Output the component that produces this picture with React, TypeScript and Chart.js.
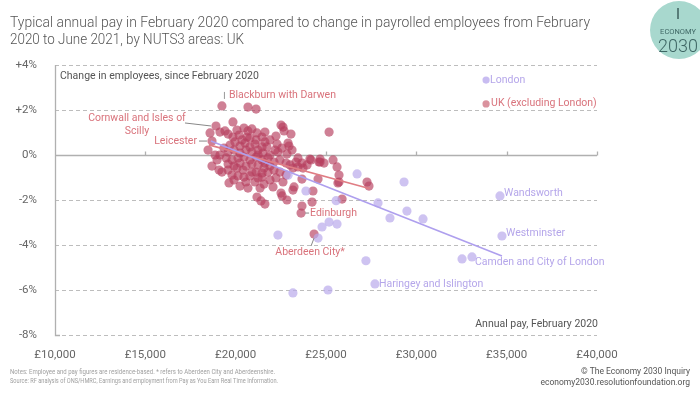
import React, { useEffect, useRef } from "react";
import { Chart, registerables } from "chart.js";

Chart.register(...registerables);

// ---- Data ----
// Labelled red (UK excl. London) areas first: Blackburn, Cornwall, Leicester, Edinburgh, Aberdeen
const redPay = [
  19240, 18910, 18690, 23620, 24340,
  20680, 21130, 18580, 19850, 19130, 19410, 19580, 20070, 20460, 20680, 20900, 20190, 19850, 20630,
  21180, 21460, 21620, 22510, 22620, 22680, 23060, 25170, 21620, 22290, 22900, 22950, 21730, 21460,
  22340, 22840, 23450, 24110, 24670, 21510, 21900, 24170, 24890, 24610, 25390, 25610, 25720, 25720,
  24560, 23730, 23450, 23170, 23010, 22620, 22070, 22510, 23170, 22570, 22840, 23670, 19630, 20570,
  21180, 21400, 21620, 21350, 23230, 24280, 24230, 25890, 27270, 27380, 25660, 23670, 18690, 18970,
  19580, 21070, 21240, 21460, 20900, 20410, 20070, 24670,
  19690, 19960, 20240, 20520, 20790, 21070, 21240, 20900, 20570, 20240, 19910, 19580, 19350, 19130,
  19470, 19800, 20130, 20460, 20790, 21130, 21460, 21790, 22120, 22450, 22790, 21900, 21570, 21240,
  20900, 20570, 20240, 19910, 19580, 19240, 19800, 20130, 20460, 20790, 21130, 21460, 21790, 22120,
  22450, 22790, 22230, 21900, 21570, 20680, 20240, 19910, 19080, 18860, 18470, 22180, 22560, 23120,
  23340, 23670, 23950, 20790, 21130, 20350, 21900, 22230, 21240, 21620,
];
const redChange = [
  2.18, 1.29, 0.62, -2.58, -3.51,
  2.13, 2.04, 0.98, 1.47, 1.02, 1.07, 0.93, 1.11, 1.2, 1.07, 1.16, 0.89, 0.8, 0.8,
  0.98, 0.8, 1.02, 1.33, 1.24, 1.07, 0.93, 1.02, 0.58, 0.49, 0.53, 0.4, 0.36, 0.36,
  0.13, 0.04, -0.13, -0.18, -0.18, 0.09, 0, -0.22, -0.36, -0.31, -0.22, -0.53, -0.89, -1.2,
  -1.07, -0.58, -0.53, -0.58, -0.44, -1.2, -1.42, -1.69, -1.56, -1.82, -2.0, -2.27, -1.24, -1.2,
  -1.87, -2.04, -2.18, -1.47, -1.42, -1.6, -2.09, -1.96, -1.2, -1.38, -1.24, -1.07, -0.49, -0.22,
  -0.4, -1.2, -1.02, -0.98, -0.76, -0.67, -0.58, -0.31,
  0.44, 0.58, 0.4, 0.53, 0.36, 0.49, 0.22, 0.13, 0.22, 0.09, 0.22, 0.13, 0.31, 0,
  -0.13, -0.22, -0.13, -0.09, -0.22, -0.09, -0.22, -0.13, -0.31, -0.22, -0.36, -0.49, -0.58, -0.44,
  -0.4, -0.49, -0.36, -0.49, -0.67, -0.76, -0.89, -0.93, -0.98, -0.93, -0.76, -0.8, -0.76, -0.67,
  -0.76, -0.89, -1.02, -1.11, -1.29, -1.47, -1.38, -1.11, -0.67, 0, 0.22, 0.22, 0.31, 0.22,
  -0.31, -0.36, -0.44, 0.76, 0.67, 0.67, 0.67, 0.84, 0, -0.36,
];
// Labelled purple (London) areas first: Wandsworth, Westminster, Camden, Haringey
const purplePay = [
  34630, 34740, 33080, 27710,
  32530, 25110, 23170, 22340, 24560, 24780, 25170, 25610, 23890, 25560, 26720, 29320, 27880,
  28540, 29480, 30370, 27210, 22900,
];
const purpleChange = [
  -1.82, -3.6, -4.53, -5.73,
  -4.62, -6.0, -6.13, -3.56, -3.69, -3.2, -2.98, -3.07, -1.6, -2.03, -0.84, -1.2, -2.13,
  -2.8, -2.49, -2.84, -4.7, -0.9,
];
const redTrendPay = [18520, 27440];
const redTrendChange = [0.45, -1.5];
const purpleTrendPay = [18630, 34740];
const purpleTrendChange = [0.62, -4.49];
const keyPay = [33860, 33860];
const keyChange = [3.33, 2.27];
const keyNames = ["London", "UK (excluding London)"];

const redLabelNames = ["Blackburn with Darwen", "Cornwall and Isles of|Scilly", "Leicester", "Edinburgh", "Aberdeen City*"];
const purpleLabelNames = ["Wandsworth", "Westminster", "Camden and City of London", "Haringey and Islington"];

const xTickValues = [10000, 15000, 20000, 25000, 30000, 35000, 40000];
const yTickValues = [4, 2, 0, -2, -4, -6, -8];

const titleLines = [
  "Typical annual pay in February 2020 compared to change in payrolled employees from February",
  "2020 to June 2021, by NUTS3 areas: UK",
];
const yAxisTitle = "Change in employees, since February 2020";
const xAxisTitle = "Annual pay, February 2020";
const noteLines = [
  "Notes: Employee and pay figures are residence-based. * refers to Aberdeen City and Aberdeenshire.",
  "Source: RF analysis of ONS/HMRC, Earnings and employment from Pay as You Earn Real Time Information.",
];
const creditLines = ["© The Economy 2030 Inquiry", "economy2030.resolutionfoundation.org"];

const RED = "rgba(182, 62, 94, 0.66)";
const PURPLE = "rgba(185, 170, 235, 0.7)";
const RED_TEXT = "#d9737c";
const PURPLE_TEXT = "#b5a6ea";
const FONT = "Roboto";

const toPts = (xs: number[], ys: number[]) => xs.map((x, i) => ({ x, y: ys[i] }));
const fmtPounds = (v: number) => "£" + String(Math.round(v)).replace(/\B(?=(\d{3})+(?!\d))/g, ",");

const decor = {
  id: "decor",
  beforeDatasetsDraw(chart: any) {
    const { ctx, chartArea: a, scales } = chart;
    const x = scales.x, y = scales.y;
    ctx.save();
    yTickValues.forEach((v) => {
      const py = Math.round(y.getPixelForValue(v)) + 0.5;
      ctx.beginPath();
      if (v === 0) {
        ctx.setLineDash([]);
        ctx.strokeStyle = "#b0b0b0";
        ctx.lineWidth = 1.3;
      } else {
        ctx.setLineDash([4, 3]);
        ctx.strokeStyle = "#bdbdbd";
        ctx.lineWidth = 1;
      }
      ctx.moveTo(a.left, py);
      ctx.lineTo(a.right, py);
      ctx.stroke();
    });
    ctx.setLineDash([]);
    ctx.strokeStyle = "#b0b0b0";
    ctx.lineWidth = 1.3;
    const zy = Math.round(y.getPixelForValue(0)) + 0.5;
    xTickValues.forEach((v) => {
      if (v === xTickValues[0]) return;
      const px = Math.round(x.getPixelForValue(v)) + 0.5;
      ctx.beginPath();
      ctx.moveTo(px, zy);
      ctx.lineTo(px, zy - 4);
      ctx.stroke();
    });
    ctx.beginPath();
    ctx.moveTo(a.left + 0.5, a.top);
    ctx.lineTo(a.left + 0.5, a.bottom + 0.5);
    ctx.lineTo(a.left + 5, a.bottom + 0.5);
    ctx.stroke();
    ctx.restore();
  },
  afterDatasetsDraw(chart: any) {
    const { ctx } = chart;
    const red = chart.getDatasetMeta(2).data;
    const pur = chart.getDatasetMeta(3).data;
    const key = chart.getDatasetMeta(4).data;
    ctx.save();
    ctx.font = `10.5px ${FONT}`;
    ctx.textBaseline = "middle";
    ctx.lineWidth = 1;
    const line = (x1: number, y1: number, x2: number, y2: number, c: string) => {
      ctx.strokeStyle = c;
      ctx.beginPath();
      ctx.moveTo(x1, y1);
      ctx.lineTo(x2, y2);
      ctx.stroke();
    };
    // Blackburn
    let p = red[0];
    line(p.x + 2.5, p.y - 7, p.x + 2.5, p.y - 14, "#999");
    ctx.fillStyle = RED_TEXT;
    ctx.textAlign = "left";
    ctx.fillText(redLabelNames[0], p.x + 7, p.y - 11);
    // Cornwall
    p = red[1];
    line(p.x - 31, p.y - 3, p.x - 5, p.y, "#888");
    ctx.textAlign = "center";
    const cw = redLabelNames[1].split("|");
    ctx.fillText(cw[0], p.x - 79, p.y - 8);
    ctx.fillText(cw[1], p.x - 79, p.y + 5);
    // Leicester
    p = red[2];
    line(p.x - 13, p.y, p.x - 5, p.y, "#888");
    ctx.textAlign = "right";
    ctx.fillText(redLabelNames[2], p.x - 15, p.y);
    // Edinburgh
    p = red[3];
    line(p.x + 4, p.y, p.x + 8, p.y, "#888");
    ctx.textAlign = "left";
    ctx.fillText(redLabelNames[3], p.x + 9, p.y);
    // Aberdeen
    p = red[4];
    line(p.x, p.y + 4, p.x - 3, p.y + 12, "#888");
    ctx.textAlign = "center";
    ctx.fillText(redLabelNames[4], p.x - 4, p.y + 18);
    // Purple labels
    ctx.fillStyle = PURPLE_TEXT;
    ctx.textAlign = "left";
    p = pur[0];
    ctx.fillText(purpleLabelNames[0], p.x + 4, p.y - 3);
    p = pur[1];
    ctx.fillText(purpleLabelNames[1], p.x + 4, p.y - 3);
    p = pur[2];
    ctx.fillText(purpleLabelNames[2], p.x + 3, p.y + 5);
    p = pur[3];
    ctx.fillText(purpleLabelNames[3], p.x + 4, p.y);
    // key
    p = key[0];
    ctx.fillText(keyNames[0], p.x + 4, p.y);
    p = key[1];
    ctx.fillStyle = RED_TEXT;
    ctx.fillText(keyNames[1], p.x + 5, p.y - 1);
    ctx.restore();
  },
  afterDraw(chart: any) {
    const { ctx, chartArea: a } = chart;
    ctx.save();
    // Title
    ctx.fillStyle = "#555";
    ctx.textBaseline = "alphabetic";
    ctx.textAlign = "left";
    ctx.font = `300 15px ${FONT}`;
    ctx.fillText(titleLines[0], 10, 27, 580);
    ctx.fillText(titleLines[1], 10, 44, 234);
    // axis titles
    ctx.font = `10.5px ${FONT}`;
    ctx.fillStyle = "#555";
    ctx.textBaseline = "middle";
    ctx.fillText(yAxisTitle, a.left + 5, 76);
    ctx.textAlign = "right";
    ctx.fillText(xAxisTitle, a.right + 1, 324);
    // footer
    ctx.textAlign = "left";
    ctx.fillStyle = "#a0a0a0";
    ctx.font = `7.5px ${FONT}`;
    ctx.fillText(noteLines[0], 10, 372, 265);
    ctx.fillText(noteLines[1], 10, 381, 268);
    ctx.textAlign = "right";
    ctx.fillStyle = "#555";
    ctx.font = `8.5px ${FONT}`;
    ctx.fillText(creditLines[0], 690, 372, 120);
    ctx.fillText(creditLines[1], 690, 383, 170);
    // logo
    ctx.fillStyle = "#a8d8ce";
    ctx.beginPath();
    ctx.arc(679, 30, 29, 0, Math.PI * 2);
    ctx.fill();
    ctx.strokeStyle = "#3e5f5c";
    ctx.lineWidth = 1.5;
    ctx.beginPath();
    ctx.moveTo(678, 8);
    ctx.lineTo(678, 19);
    ctx.stroke();
    ctx.fillStyle = "#3e6664";
    ctx.textAlign = "center";
    ctx.font = `7.5px ${FONT}`;
    ctx.fillText("ECONOMY", 678, 32, 36);
    ctx.font = `300 18px ${FONT}`;
    ctx.fillText("2030", 678, 47);
    ctx.restore();
  },
};

export default function App() {
  const ref = useRef<HTMLCanvasElement | null>(null);
  useEffect(() => {
    document.body.style.margin = "0";
    const canvas = ref.current;
    if (!canvas) return;
    const chart = new Chart(canvas, {
      type: "scatter",
      data: {
        datasets: [
          {
            type: "line",
            data: toPts(redTrendPay, redTrendChange),
            borderColor: "#e07d84",
            borderWidth: 1.6,
            pointRadius: 0,
            showLine: true,
            order: 1,
          } as any,
          {
            type: "line",
            data: toPts(purpleTrendPay, purpleTrendChange),
            borderColor: "#ae9fee",
            borderWidth: 1.6,
            pointRadius: 0,
            showLine: true,
            order: 0,
          } as any,
          {
            data: toPts(redPay, redChange),
            backgroundColor: RED,
            borderWidth: 0,
            pointRadius: 4.6,
            order: 3,
          },
          {
            data: toPts(purplePay, purpleChange),
            backgroundColor: PURPLE,
            borderWidth: 0,
            pointRadius: 4.6,
            order: 2,
          },
          {
            data: toPts(keyPay, keyChange),
            backgroundColor: ["rgba(190, 176, 238, 0.85)", "rgba(205, 110, 125, 0.75)"],
            borderWidth: 0,
            pointRadius: 3.6,
            order: 2,
          },
        ],
      },
      options: {
        animation: false,
        responsive: false,
        devicePixelRatio: 1,
        layout: { padding: { left: 0, right: 103, top: 65, bottom: 31 } },
        plugins: { legend: { display: false }, tooltip: { enabled: false } },
        scales: {
          x: {
            type: "linear",
            min: 10000,
            max: 40000,
            afterBuildTicks: (s: any) => {
              s.ticks = xTickValues.map((v) => ({ value: v }));
            },
            afterFit: (s: any) => {
              s.height = 28;
            },
            grid: { display: false },
            border: { display: false },
            ticks: {
              padding: 5,
              color: "#666",
              font: { family: FONT, size: 11.5 },
              callback: (v: any) => fmtPounds(Number(v)),
            },
          },
          y: {
            type: "linear",
            min: -8,
            max: 4,
            afterBuildTicks: (s: any) => {
              s.ticks = yTickValues.map((v) => ({ value: v }));
            },
            afterFit: (s: any) => {
              s.width = 55;
            },
            grid: { display: false },
            border: { display: false },
            ticks: {
              padding: 10,
              color: "#666",
              font: { family: FONT, size: 11.5 },
              callback: (v: any) => (Number(v) > 0 ? "+" + v + "%" : v + "%"),
            },
          },
        },
      },
      plugins: [decor],
    });
    return () => chart.destroy();
  }, []);
  return (
    <div style={{ width: 700, height: 394, background: "#fff" }}>
      <canvas ref={ref} width={700} height={394} style={{ display: "block" }} />
    </div>
  );
}
